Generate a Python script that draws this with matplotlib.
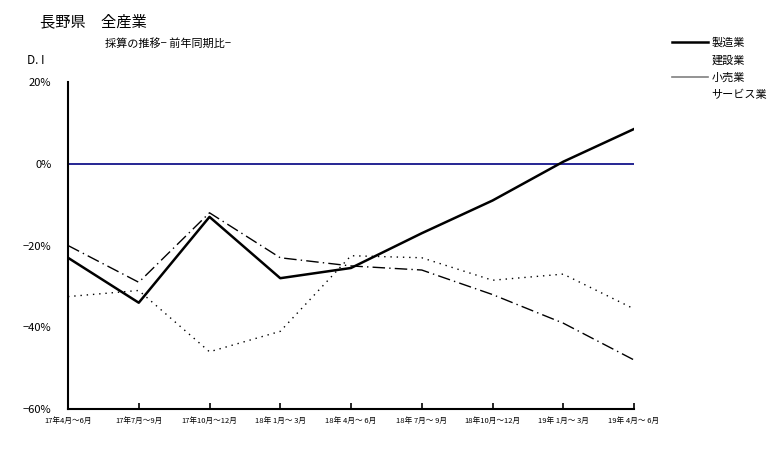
import matplotlib

matplotlib.use("Agg")
import matplotlib.pyplot as plt
from matplotlib.lines import Line2D

plt.rcParams["font.family"] = ["Noto Sans CJK JP", "DejaVu Sans"]

# ---- data -----------------------------------------------------------------
periods = ["17年4月〜6月", "17年7月〜9月", "17年10月〜12月", "18年 1月〜 3月",
           "18年 4月〜 6月", "18年 7月〜 9月", "18年10月〜12月", "19年 1月〜 3月",
           "19年 4月〜 6月"]
manufacturing = [-23, -34, -13, -28, -25.5, -17, -9, 0.5, 8.5]
construction = [-20, -29, -12, -23, -25, -26, -32, -39, -48]
retail = [-32.5, -31, -46, -41, -22.5, -23, -28.5, -27, -35.5]
yticks = [20, 0, -20, -40, -60]

fig = plt.figure(figsize=(7.8, 4.5), dpi=100)
ax = fig.add_axes([68 / 780, 1 - 409 / 450, (634 - 68) / 780, (409 - 82) / 450])

x = list(range(len(periods)))
ax.plot(x, manufacturing, color="black", lw=1.8, zorder=3)
ax.plot(x, construction, color="black", lw=1.0, ls=(0, (9, 3, 1, 3)), zorder=2)
ax.plot(x, retail, color="black", lw=1.0, ls=(0, (1, 3.5)), zorder=2)
ax.axhline(0, color="#000080", lw=1.2, zorder=1)

ax.set_xlim(0, len(periods) - 1)
ax.set_ylim(-60, 20)
ax.set_yticks(yticks)
ax.set_yticklabels([f"{v}%".replace("-", "−") for v in yticks], fontsize=8)
ax.set_xticks(x)
ax.set_xticklabels(periods, fontsize=5.5)
ax.tick_params(axis="x", direction="in", length=4, width=1.2, pad=6)
ax.tick_params(axis="y", length=0, pad=12)
for s in ("top", "right"):
    ax.spines[s].set_visible(False)
for s in ("left", "bottom"):
    ax.spines[s].set_linewidth(1.5)

fig.text(40 / 780, 1 - 22 / 450, "長野県　全産業", fontsize=11, va="center")
fig.text(105 / 780, 1 - 43 / 450, "採算の推移− 前年同期比−", fontsize=8, va="center")
fig.text(27 / 780, 1 - 60 / 450, "D. I", fontsize=8.5, va="center")

handles = [Line2D([], [], color="black", lw=1.8),
           Line2D([], [], color="none"),
           Line2D([], [], color="grey", lw=1.2),
           Line2D([], [], color="none")]
labels = ["製造業", "建設業", "小売業", "サービス業"]
fig.legend(handles, labels, loc="upper left", bbox_to_anchor=(668 / 780, 1 - 33 / 450),
           frameon=False, fontsize=8, handlelength=3.2, handletextpad=0.3,
           labelspacing=0.65, borderaxespad=0)

fig.savefig("out.png", dpi=100, facecolor="white")
